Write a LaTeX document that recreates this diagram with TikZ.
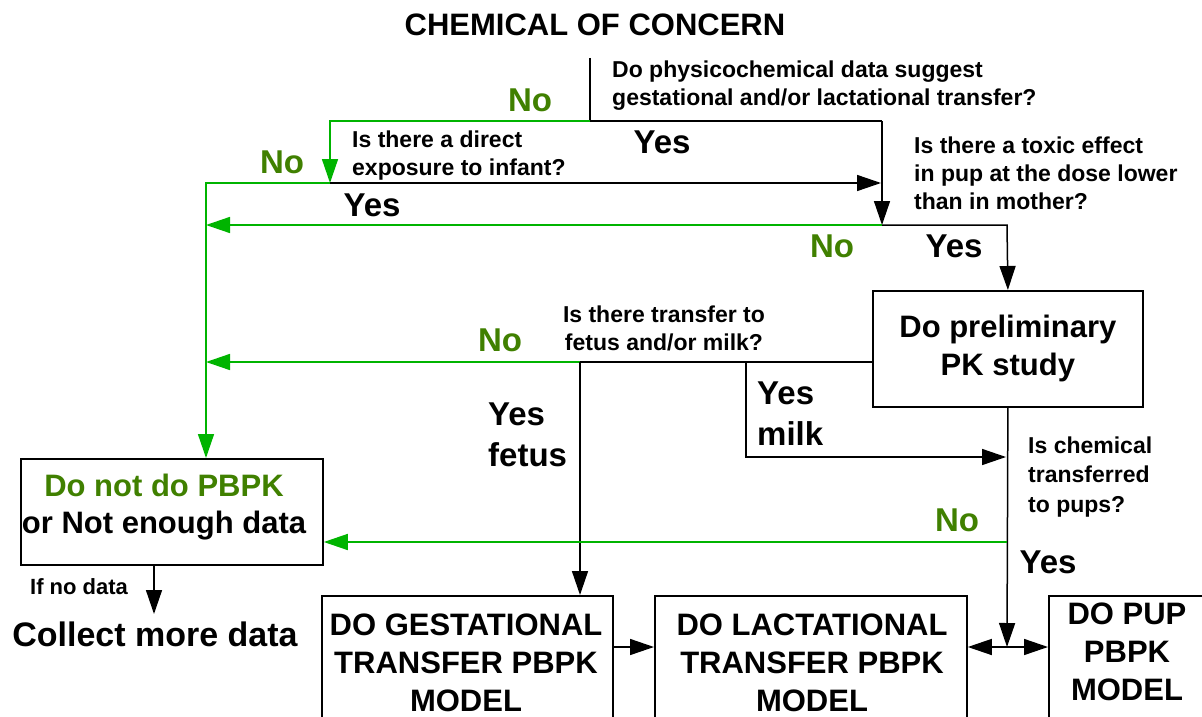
\documentclass[tikz,border=0pt]{standalone}
\usepackage{fontspec}
\setmainfont{Liberation Sans}
\usetikzlibrary{arrows.meta}
\definecolor{gline}{RGB}{0,180,0}
\definecolor{gtext}{RGB}{64,128,0}
\begin{document}
\begin{tikzpicture}[x=1pt,y=-1pt,
  conn/.style={line width=1.5pt, draw=black},
  gconn/.style={line width=1.5pt, draw=gline},
  tip/.style={-{Triangle[length=24pt,width=16pt]}},
  box/.style={draw, line width=1.8pt, inner sep=0pt},
  q/.style={font=\fontsize{23}{28}\selectfont\bfseries, align=left, anchor=west, inner sep=0pt},
  big/.style={font=\fontsize{33}{41}\selectfont\bfseries, inner sep=0pt},
  gbig/.style={big, text=gtext},
  boxtxt/.style={font=\fontsize{31}{38}\selectfont\bfseries, align=center, inner sep=0pt}
]
\path[use as bounding box, fill=white] (0,0) rectangle (1202,717);

% titles and questions
\node[font=\fontsize{31}{38}\selectfont\bfseries, inner sep=0pt] (title) at (595,25) {CHEMICAL OF CONCERN};
\node[q] (q1) at (612,86) {Do physicochemical data suggest\\gestational and/or lactational transfer?};
\node[q] (q2) at (352,156) {Is there a direct\\exposure to infant?};
\node[q] (q3) at (914,173) {Is there a toxic effect\\in pup at the dose lower\\than in mother?};
\node[q, align=center, anchor=center] (q4) at (664,328) {Is there transfer to\\fetus and/or milk?};
\node[q, font=\fontsize{23}{29.5}\selectfont\bfseries] (q5) at (1028,477) {Is chemical\\transferred\\to pups?};

% labels
\node[gbig] (no1) at (530,100) {No};
\node[big] (yes1) at (662,142) {Yes};
\node[gbig] (no2) at (282,162) {No};
\node[big] (yes2) at (372,205) {Yes};
\node[gbig] (no3) at (832,246) {No};
\node[big] (yes3) at (954,246) {Yes};
\node[gbig] (no4) at (500,340) {No};
\node[big, align=left, anchor=west] (yesf) at (488,435) {Yes\\fetus};
\node[big, align=left, anchor=west] (yesm) at (757,414) {Yes\\milk};
\node[gbig] (no5) at (957,520) {No};
\node[big] (yes5) at (1048,562) {Yes};

% boxes
\node[box, anchor=north west, minimum width=302pt, minimum height=106pt] (notdo) at (20,458) {};
\node[boxtxt, font=\fontsize{31}{37}\selectfont\bfseries] (notdotxt) at (164,507) {\textcolor{gtext}{Do not do PBPK}\\or Not enough data};
\node[box, anchor=north west, minimum width=270pt, minimum height=116pt, boxtxt] (pk) at (872,290) {Do preliminary\\PK study};
\node[box, anchor=north west, minimum width=291pt, minimum height=150pt] (gest) at (321,595) {};
\node[box, anchor=north west, minimum width=312pt, minimum height=150pt] (lact) at (654,595) {};
\node[box, anchor=north west, minimum width=180pt, minimum height=150pt] (pup) at (1048,595) {};
\node[boxtxt] (gesttxt) at (466,663) {DO GESTATIONAL\\TRANSFER PBPK\\MODEL};
\node[boxtxt] (lacttxt) at (812,663) {DO LACTATIONAL\\TRANSFER PBPK\\MODEL};
\node[boxtxt] (puptxt) at (1127,652) {DO PUP\\PBPK\\MODEL};
\node[q, font=\fontsize{22}{26}\selectfont\bfseries] (ifno) at (30,587) {If no data};
\node[font=\fontsize{34}{40}\selectfont\bfseries, inner sep=0pt] (collect) at (155,634) {Collect more data};

% junction coordinates
\coordinate (top) at (590,58);
\coordinate (j1) at (590,121);
\coordinate (j1r) at (882,121);
\coordinate (j1l) at (330,121);
\coordinate (j2) at (330,183);
\coordinate (j2l) at (206,183);
\coordinate (j2r) at (881,183);
\coordinate (j3) at (882,225);
\coordinate (j3l) at (206,225);
\coordinate (j3r) at (1007,225);
\coordinate (j4) at (580,362);
\coordinate (j4m) at (746,362);
\coordinate (j4l) at (206,362);
\coordinate (m1) at (1006,457);
\coordinate (n1) at (1007,542);
\coordinate (j5) at (1007,647);
\coordinate (cm) at (154,614);

% connectors
\draw[conn] (top) -- (j1) -- (j1r);
\draw[conn, tip] (j1r) -- (j3);
\draw[gconn, tip] (j1) -- (j1l) -- (j2);
\draw[conn, tip] (j2) -- (j2r);
\draw[gconn, tip] (j2) -- (j2l) -- (j2l |- notdo.north);
\draw[gconn, tip] (j3) -- (j3l);
\draw[conn, tip] (j3) -- (j3r) -- (pk.north);
\draw[conn] (pk.west |- j4) -- (j4);
\draw[gconn, tip] (j4) -- (j4l);
\draw[conn, tip] (j4) -- (j4 |- gest.north);
\draw[conn, tip] (j4m) |- (m1);
\draw[conn, tip] (pk.south) -- (j5);
\draw[gconn, tip] (n1) -- (notdo.east |- n1);
\draw[conn, tip] (cm |- notdo.south) -- (cm);
\draw[conn, tip] (gest.east |- j5) -- (lact.west |- j5);
\draw[conn, tip] (j5) -- (lact.east |- j5);
\draw[conn, tip] (j5) -- (pup.west |- j5);
\end{tikzpicture}
\end{document}
